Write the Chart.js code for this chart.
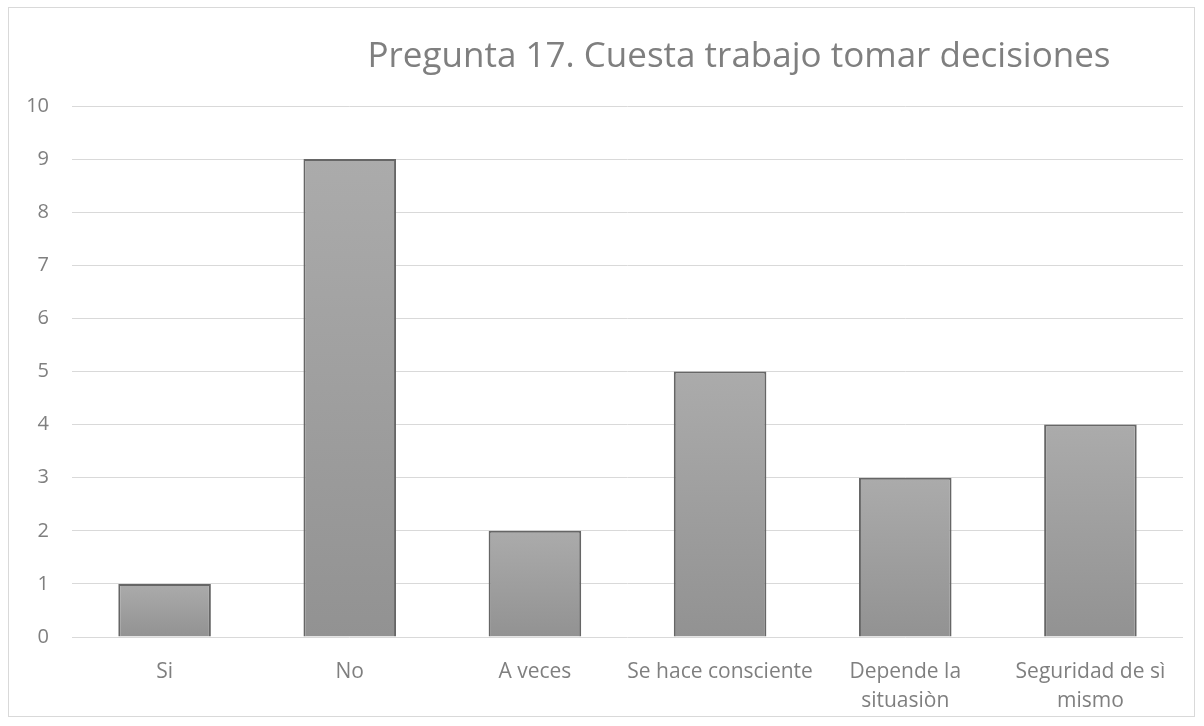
<!DOCTYPE html>
<html>
<head>
<meta charset="utf-8">
<script src="https://cdn.jsdelivr.net/npm/chart.js@4"></script>
<style>
  html, body { margin: 0; padding: 0; background: #fff; }
  #wrap { position: relative; width: 1204px; height: 726px; }
  #marco { position: absolute; left: 8px; top: 7px; width: 1187px; height: 710px; border: 1px solid #d9d9d9; box-sizing: border-box; }
  canvas { position: absolute; left: 0; top: 0; }
</style>
</head>
<body>
<div id="wrap">
  <div id="marco"></div>
  <canvas id="grafica" width="1204" height="726"></canvas>
</div>
<script>
"use strict";

/* ===== DATOS ===== */
const titulo = "Pregunta 17. Cuesta trabajo tomar decisiones";
const categorias = ["Si", "No", "A veces", "Se hace consciente", ["Depende la", "situasiòn"], ["Seguridad de sì", "mismo"]];
const respuestas = [1, 9, 2, 5, 3, 4];
const yMin = 0;
const yMax = 10;

const fuente = "'Open Sans', 'Noto Sans', sans-serif";
const gris = "#7f7f7f";

// degradado por barra (claro arriba, oscuro abajo)
function rellenoBarra(ctx) {
    const chart = ctx.chart;
    const y = chart.scales.y;
    if (!y || ctx.type !== "data") return "#a0a0a0";
    const arriba = y.getPixelForValue(ctx.raw);
    const base = y.getPixelForValue(0);
    if (!isFinite(arriba) || !isFinite(base) || arriba === base) return "#a0a0a0";
    const g = chart.ctx.createLinearGradient(0, arriba, 0, base);
    g.addColorStop(0, "#ababab");
    g.addColorStop(1, "#929292");
    return g;
}

const tituloPlugin = {
    id: "tituloPlugin",
    afterDraw(chart) {
        const c = chart.ctx;
        c.save();
        c.font = "35px " + fuente;
        c.fillStyle = gris;
        c.textAlign = "center";
        c.textBaseline = "middle";
        c.fillText(titulo, 739, 57);
        c.restore();
    }
};

new Chart(document.getElementById("grafica"), {
    type: "bar",
    data: {
        labels: categorias,
        datasets: [{
            data: respuestas,
            backgroundColor: rellenoBarra,
            borderColor: "#666666",
            borderWidth: 2,
            categoryPercentage: 1,
            barPercentage: 0.5
        }]
    },
    options: {
        responsive: false,
        animation: false,
        layout: { padding: { left: 8, right: 21, top: 106, bottom: 0 } },
        plugins: {
            legend: { display: false },
            tooltip: { enabled: false }
        },
        scales: {
            x: {
                grid: { display: false },
                border: { display: false },
                ticks: {
                    color: gris,
                    font: { family: fuente, size: 21, lineHeight: 1.38 },
                    padding: 13,
                    maxRotation: 0,
                    autoSkip: false
                },
                afterFit: s => { s.height = 89; }
            },
            y: {
                min: yMin,
                max: yMax,
                grid: { color: "#d9d9d9", lineWidth: 1, drawTicks: false },
                border: { display: false },
                ticks: {
                    stepSize: 1,
                    color: gris,
                    font: { family: fuente, size: 20 },
                    padding: 23
                },
                afterFit: s => { s.width = 64; }
            }
        }
    },
    plugins: [tituloPlugin]
});
</script>
</body>
</html>
